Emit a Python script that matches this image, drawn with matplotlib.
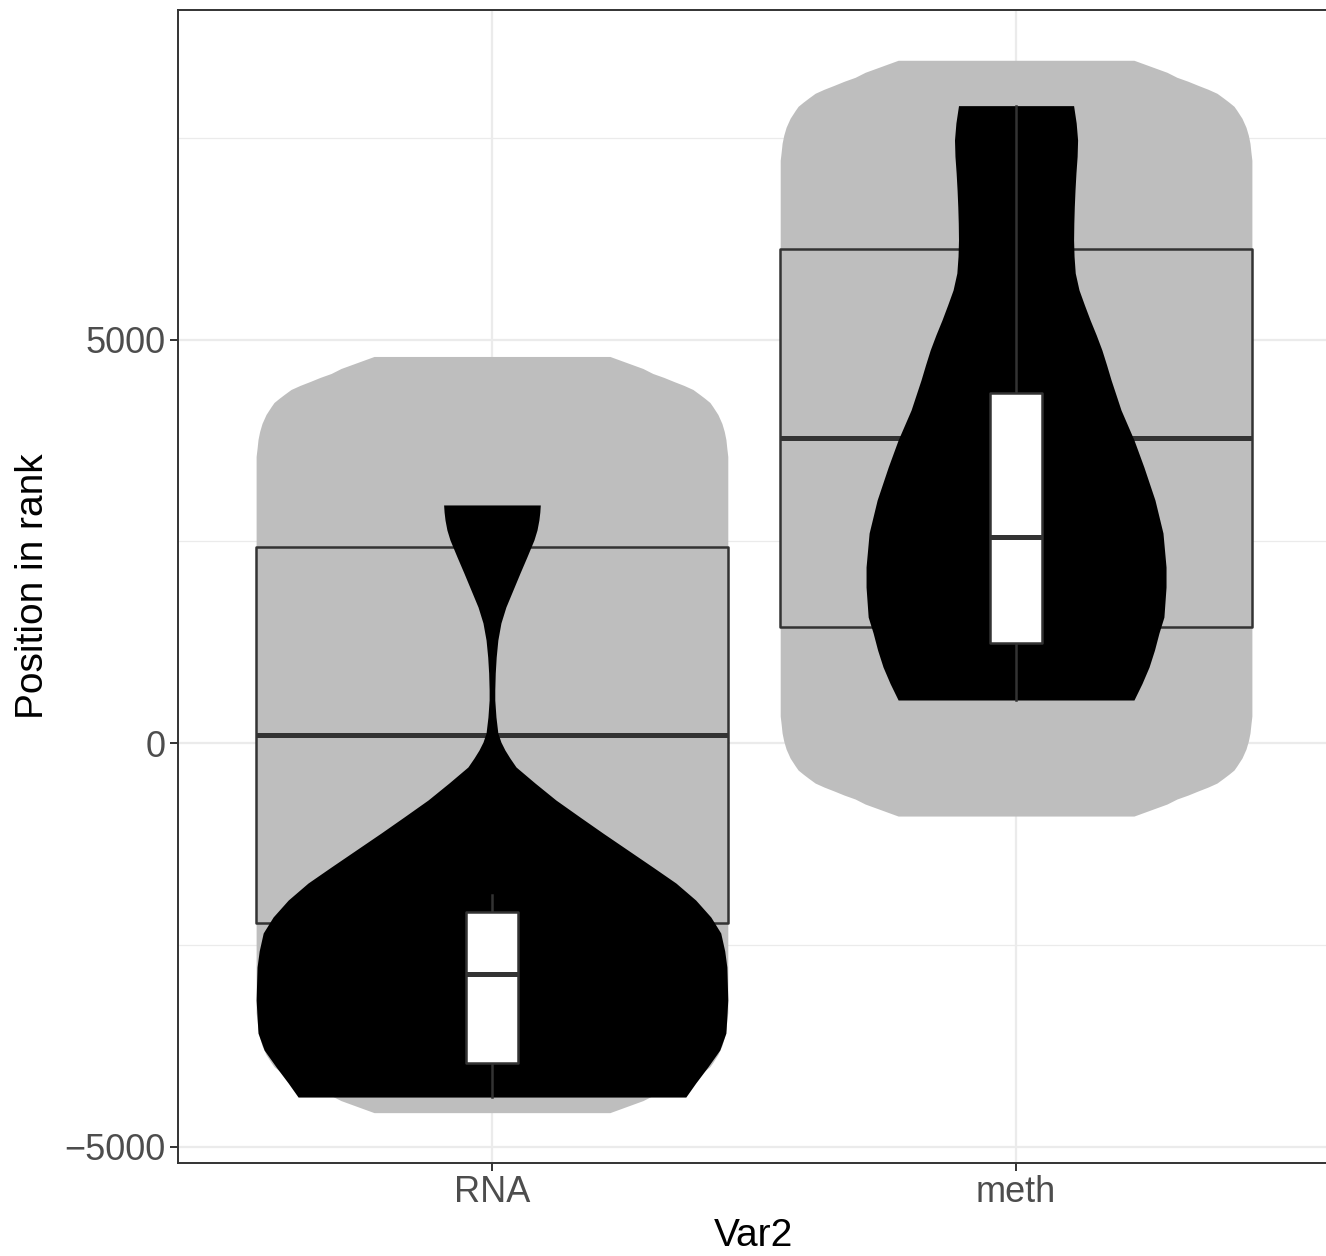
import matplotlib.pyplot as plt
import numpy as np

plt.rcParams['font.family'] = ['Liberation Sans', 'DejaVu Sans']

# categories
groups = ['RNA', 'meth']
xpos = [1, 2]

# background (grey) violins: y value and relative width (1 = widest)
bg_w_end = [0.50, 0.547, 0.593, 0.640, 0.682, 0.729, 0.771, 0.814, 0.852, 0.881,
            0.903, 0.924, 0.936, 0.958, 0.975, 0.985, 0.992, 0.996, 1.0]

rna_bg_y = [4790, 4740, 4691, 4641, 4579, 4530, 4480, 4431, 4381, 4319, 4270,
            4220, 4170, 4071, 3960, 3861, 3761, 3650, 3551,
            -3341, -3440, -3551, -3651, -3750, -3861, -3960, -4010, -4060, -4109,
            -4171, -4221, -4270, -4320, -4369, -4431, -4481, -4530, -4580]
rna_bg_w = bg_w_end + bg_w_end[::-1]

meth_bg_y = [8460, 8410, 8361, 8311, 8249, 8200, 8150, 8101, 8051, 7989, 7940,
             7890, 7840, 7741, 7630, 7531, 7431, 7320, 7221,
             334, 235, 124, 24, -75, -186, -285, -335, -385, -434, -496, -546,
             -595, -645, -694, -756, -806, -855, -905]
meth_bg_w = bg_w_end + bg_w_end[::-1]

# grey boxes (Q1, median, Q3)
bg_q1 = [-2234, 1441]
bg_med = [95, 3783]
bg_q3 = [2425, 6118]

# foreground (black) violins
rna_fg_y = [2950, 2863, 2763, 2640, 2516, 2305, 2107, 1896, 1685, 1487, 1276,
            1065, 867, 657, 533, 322, 124, 12, -87, -186, -297, -495, -706,
            -917, -1115, -1326, -1537, -1735, -1946, -2156, -2354, -2577, -2776,
            -3185, -3594, -3804, -4015, -4213, -4387]
rna_fg_w = [0.205, 0.203, 0.199, 0.191, 0.178, 0.148, 0.119, 0.089, 0.059, 0.038,
            0.025, 0.018, 0.014, 0.012, 0.012, 0.017, 0.025, 0.038, 0.055, 0.076,
            0.102, 0.182, 0.271, 0.373, 0.470, 0.576, 0.682, 0.780, 0.864, 0.928,
            0.970, 0.987, 0.996, 1.0, 0.992, 0.966, 0.915, 0.864, 0.822]
meth_fg_y = [7898, 7683, 7472, 7270, 7063, 6850, 6642, 6440, 6233, 6030, 5824,
             5614, 5428, 5242, 5056, 4870, 4684, 4498, 4313, 4127, 3755, 3420,
             3011, 2602, 2181, 1933, 1561, 1363, 1152, 942, 737, 533]
meth_fg_w = [0.244, 0.255, 0.261, 0.259, 0.254, 0.250, 0.247, 0.245, 0.244, 0.246,
             0.251, 0.267, 0.290, 0.314, 0.340, 0.364, 0.384, 0.403, 0.424, 0.445,
             0.500, 0.542, 0.589, 0.623, 0.636, 0.636, 0.627, 0.606, 0.587, 0.564,
             0.534, 0.500]

# white boxes
wb_low = [-4387, 533]
wb_q1 = [-3969, 1243]
wb_med = [-2866, 2557]
wb_q3 = [-2094, 4333]
wb_high = [-1884, 7898]

fig = plt.figure(figsize=(13.26, 12.56), dpi=100)
ax = fig.add_axes([177.5 / 1326, 93 / 1256, 1153 / 1326, 1153 / 1256])

line_col = '#333333'
grey = '#BEBEBE'

bg = [(rna_bg_y, rna_bg_w), (meth_bg_y, meth_bg_w)]
fg = [(rna_fg_y, rna_fg_w), (meth_fg_y, meth_fg_w)]

for i, x in enumerate(xpos):
    y, w = bg[i]
    w = np.array(w) * 0.45
    ax.fill_betweenx(y, x - w, x + w, color=grey, lw=0, zorder=2)

    # grey box
    ax.fill_between([x - 0.45, x + 0.45], bg_q1[i], bg_q3[i], facecolor=grey,
                    edgecolor=line_col, lw=1.8, zorder=3)
    ax.plot([x - 0.45, x + 0.45], [bg_med[i]] * 2, color=line_col, lw=3.6,
            solid_capstyle='butt', zorder=3)

    y, w = fg[i]
    w = np.array(w) * 0.45
    ax.fill_betweenx(y, x - w, x + w, color='black', lw=0, zorder=4)

    # white box
    ax.plot([x, x], [wb_low[i], wb_q1[i]], color=line_col, lw=1.8, zorder=5)
    ax.plot([x, x], [wb_q3[i], wb_high[i]], color=line_col, lw=1.8, zorder=5)
    ax.fill_between([x - 0.049, x + 0.049], wb_q1[i], wb_q3[i], facecolor='white',
                    edgecolor=line_col, lw=1.8, zorder=5)
    ax.plot([x - 0.049, x + 0.049], [wb_med[i]] * 2, color=line_col, lw=3.6,
            solid_capstyle='butt', zorder=6)

ax.set_xlim(0.4, 2.6)
ax.set_ylim(-5204, 9083)

ax.set_xticks(xpos)
ax.set_xticklabels(groups)
ax.set_yticks([-5000, 0, 5000])
ax.set_yticklabels(['\u22125000', '0', '5000'])
ax.set_yticks([-2500, 2500, 7500], minor=True)
ax.tick_params(which='minor', length=0)

ax.grid(True, which='major', color='#EBEBEB', lw=1.6, zorder=0)
ax.grid(True, which='minor', axis='y', color='#EBEBEB', lw=0.9, zorder=0)
ax.set_axisbelow(True)

ax.tick_params(which='major', length=5.5, width=1.4, color=line_col,
               labelsize=26, labelcolor='#4D4D4D', pad=3)
for s in ax.spines.values():
    s.set_color(line_col)
    s.set_linewidth(1.4)

ax.set_xlabel('Var2', fontsize=28, color='black', labelpad=6)
ax.set_ylabel('Position in rank', fontsize=28, color='black', labelpad=10)

fig.savefig('out.png', dpi=100, facecolor='white')
